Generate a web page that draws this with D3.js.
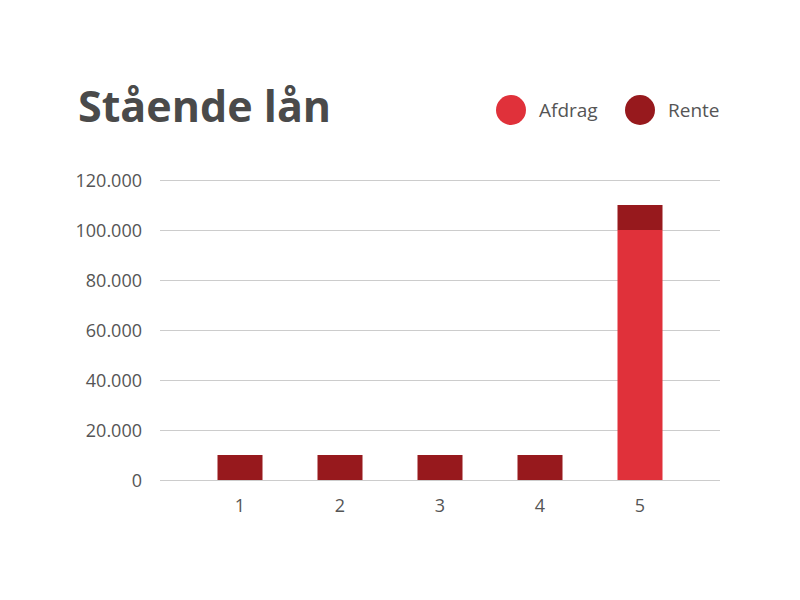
<!DOCTYPE html>
<html><head><meta charset="utf-8">
<script src="https://cdn.jsdelivr.net/npm/d3@7"></script>
<style>body{margin:0;background:#fff;} svg{display:block;}</style>
</head><body><svg id="c" width="800" height="600"></svg>
<script>
const categories = ["1","2","3","4","5"];
const afdrag = [0,0,0,0,100000];
const rente = [10000,10000,10000,10000,10000];
const yTicks = [0,20000,40000,60000,80000,100000,120000];
const seriesNames = ["Afdrag","Rente"];
const colors = ["#e0313a","#97191d"];

const svg = d3.select("#c");
const font = "'Open Sans', Lato, sans-serif";
const y = d3.scaleLinear().domain([0,120000]).range([480,180]);
const x = d3.scaleBand().domain(categories).range([190,690]).paddingInner(0.55).paddingOuter(0.275);
const fmt = v => d3.format(",")(v).replace(/,/g,".");

svg.append("g").selectAll("line").data(yTicks).join("line")
  .attr("x1",160).attr("x2",720).attr("y1",d=>y(d)).attr("y2",d=>y(d))
  .attr("stroke","#cccccc").attr("stroke-width",1).attr("shape-rendering","crispEdges");

const yAxis = svg.append("g").attr("transform","translate(145,0)")
  .call(d3.axisLeft(y).tickValues(yTicks).tickFormat(fmt).tickSize(0));
yAxis.select(".domain").remove();
yAxis.selectAll("text").attr("font-family",font).attr("font-size",18).attr("fill","#555").attr("dy","0.35em");

const xAxis = svg.append("g").attr("transform","translate(0,496)")
  .call(d3.axisBottom(x).tickSize(0));
xAxis.select(".domain").remove();
xAxis.selectAll("text").attr("font-family",font).attr("font-size",18).attr("fill","#555").attr("dy","0.71em");

const data = categories.map((c,i)=>({c, a:afdrag[i], r:rente[i]}));
const stack = d3.stack().keys(["a","r"])(data);
svg.append("g").selectAll("g").data(stack).join("g").attr("fill",(d,i)=>colors[i])
  .selectAll("rect").data(d=>d).join("rect")
  .attr("x",d=>x(d.data.c)).attr("width",x.bandwidth())
  .attr("y",d=>y(d[1])).attr("height",d=>y(d[0])-y(d[1]));

svg.append("text").attr("x",78).attr("y",122).text("Stående lån")
  .attr("font-family",font).attr("font-weight","bold").attr("font-size",43).attr("fill","#4a4a4a");

const legX = [511,640];
const lg = svg.append("g").selectAll("g").data(seriesNames).join("g")
  .attr("transform",(d,i)=>`translate(${legX[i]},110)`);
lg.append("circle").attr("r",15).attr("fill",(d,i)=>colors[i]);
lg.append("text").attr("x",28).attr("dy","0.35em").text(d=>d)
  .attr("font-family",font).attr("font-size",19).attr("fill","#555");
</script></body></html>
